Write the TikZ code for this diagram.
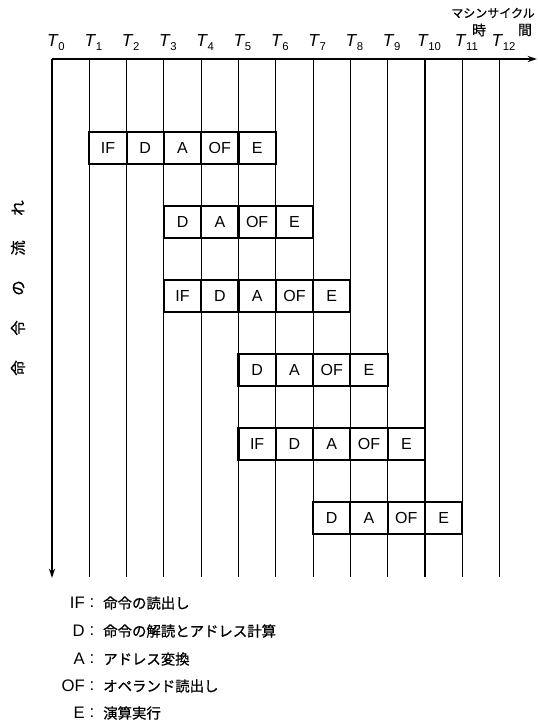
\documentclass[tikz,border=0pt]{standalone}
\usepackage{fontspec}
\setmainfont{Liberation Sans}
\newfontfamily\jp[FakeBold=0.7]{Noto Sans CJK JP}
\usetikzlibrary{arrows.meta}
\begin{document}
\begin{tikzpicture}[x=0.75pt,y=-0.75pt,
  gridline/.style={line width=0.8pt},
  axisline/.style={line width=1.2pt,-{Stealth[length=7pt,width=4.5pt]}},
  stagebox/.style={draw,line width=1.6pt,fill=white,minimum width=27.975pt,minimum height=24pt,inner sep=0pt,font=\fontsize{12}{14}\selectfont},
  tlab/.style={inner sep=0pt,font=\fontsize{13}{15}\selectfont},
  legkey/.style={inner sep=0pt,anchor=east,font=\fontsize{12.5}{14}\selectfont},
  legcolon/.style={inner sep=0pt,font=\fontsize{12.5}{14}\selectfont},
  legtext/.style={inner sep=0pt,anchor=west,font=\jp\fontsize{10.8}{13}\selectfont},
  toplab/.style={inner sep=0pt,font=\jp\fontsize{9}{10}\selectfont}]
\useasboundingbox (0,0) rectangle (537,724);
% axes
\coordinate (O) at (52,59);
\coordinate (xend) at (537,59);
\coordinate (yend) at (52,578);
\foreach \i in {1,...,12}{
  \coordinate (t\i) at ({52+37.3*\i},59);
  \coordinate (b\i) at ({52+37.3*\i},577);
  \draw[gridline] (t\i) -- (b\i);
}
\draw[axisline] (O) -- (xend);
\draw[axisline] (O) -- (yend);
% time labels
\foreach \i in {0,...,12}{
  \node[tlab] (lab\i) at ({56+37.3*\i},43) {\itshape T\kern0.5pt\raisebox{-3pt}{\fontsize{8.5}{9}\selectfont\upshape\i}};
}
\node[toplab] (mc) at (493,13) {マシンサイクル};
\node[toplab,font=\jp\fontsize{10.5}{12}\selectfont] (ji) at (479,30) {時};
\node[toplab,font=\jp\fontsize{10.5}{12}\selectfont] (kan) at (525,30) {間};
% vertical label
\node[rotate=90,inner sep=0pt,font=\jp\fontsize{11.5}{12}\selectfont] (flow) at (18,288) {命\hspace{18.5pt}令\hspace{18.5pt}の\hspace{18.5pt}流\hspace{18.5pt}れ};
% pipeline rows
\foreach \r/\s/\y/\list in {1/1/148/{IF,D,A,OF,E},2/3/222/{D,A,OF,E},3/3/296/{IF,D,A,OF,E},4/5/370/{D,A,OF,E},5/5/444/{IF,D,A,OF,E},6/7/518/{D,A,OF,E}}{
  \foreach \lab [count=\k from 0] in \list{
    \node[stagebox] (r\r s\k) at ({52+37.3*(\s+\k+0.5)},\y) {\lab};
  }
}
% legend
\foreach \n/\key/\txt/\y in {1/IF/命令の読出し/603,2/D/命令の解読とアドレス計算/631,3/A/アドレス変換/659,4/OF/オペランド読出し/686,5/E/演算実行/713}{
  \node[legkey] (k\n) at (85,\y) {\key};
  \node[legcolon] (c\n) at (92,\y) {:};
  \node[legtext] (d\n) at (103,\y) {\txt};
}
\end{tikzpicture}
\end{document}
